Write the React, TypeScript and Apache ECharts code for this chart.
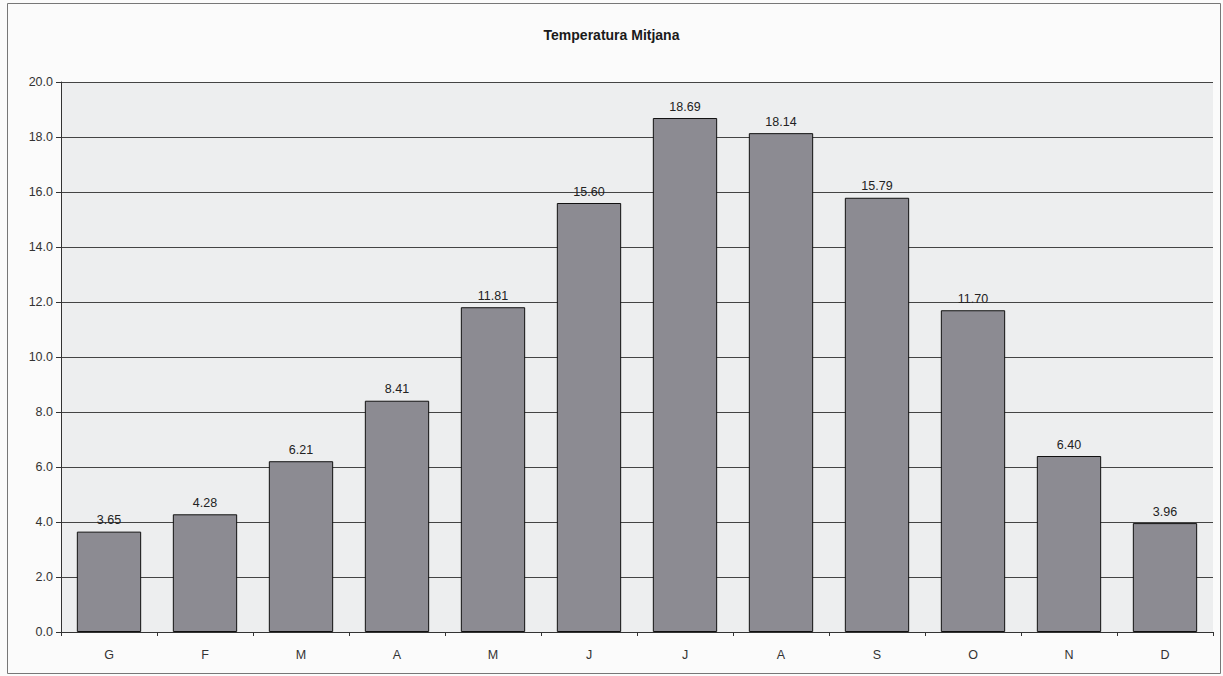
import React, { useEffect, useRef } from "react";
import * as echarts from "echarts";

const months = ["G", "F", "M", "A", "M", "J", "J", "A", "S", "O", "N", "D"];
const temps = [3.65, 4.28, 6.21, 8.41, 11.81, 15.6, 18.69, 18.14, 15.79, 11.7, 6.4, 3.96];
const title = "Temperatura Mitjana";

export default function App() {
  const ref = useRef<HTMLDivElement>(null);
  useEffect(() => {
    document.body.style.margin = "0";
    const chart = echarts.init(ref.current!, null, { renderer: "svg" });
    chart.setOption({
      animation: false,
      backgroundColor: "#fbfbfb",
      title: {
        text: title,
        left: "center",
        top: 23,
        textStyle: { fontFamily: "Liberation Sans, Arial", fontSize: 14, fontWeight: "bold", color: "#1a1a1a" },
      },
      graphic: [
        {
          type: "rect",
          shape: { x: 7.5, y: 3.5, width: 1213, height: 670 },
          style: { fill: "none", stroke: "#777", lineWidth: 1 },
          silent: true,
        },
      ],
      grid: { left: 61, right: 10, top: 82, bottom: 44, show: true, backgroundColor: "#edeeef", borderWidth: 0 },
      xAxis: {
        type: "category",
        data: months,
        axisLine: { show: true, lineStyle: { color: "#333", width: 1 } },
        axisTick: { show: true, inside: false, length: 4, lineStyle: { color: "#333" } },
        axisLabel: { color: "#333", fontSize: 12.5, fontFamily: "Liberation Sans, Arial", margin: 16 },
      },
      yAxis: {
        type: "value",
        min: 0,
        max: 20,
        interval: 2,
        axisLine: { show: true, lineStyle: { color: "#333", width: 1 } },
        axisTick: { show: true, length: 5, lineStyle: { color: "#333" } },
        axisLabel: { color: "#333", fontSize: 12.5, fontFamily: "Liberation Sans, Arial", margin: 8, formatter: (v: number) => v.toFixed(1) },
        splitLine: { show: true, lineStyle: { color: "#444", width: 1 } },
      },
      series: [
        {
          type: "bar",
          data: temps,
          barCategoryGap: "33%",
          itemStyle: { color: "#8c8b92", borderColor: "#111", borderWidth: 1 },
          label: {
            show: true,
            position: "top",
            distance: 5,
            color: "#222",
            fontSize: 12.5,
            fontFamily: "Liberation Sans, Arial",
            formatter: (p: any) => p.value.toFixed(2),
          },
        },
      ],
    });
    return () => chart.dispose();
  }, []);
  return <div ref={ref} style={{ width: 1223, height: 676 }} />;
}
